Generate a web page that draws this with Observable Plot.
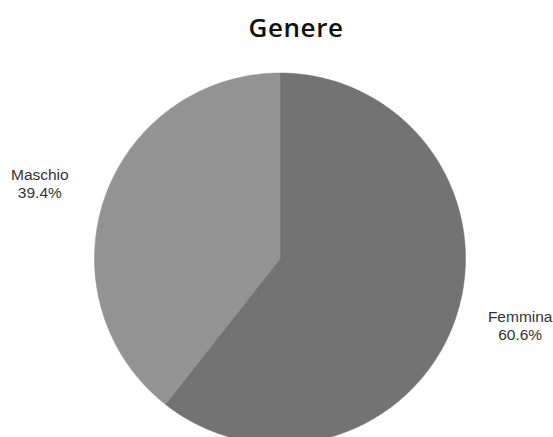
<!DOCTYPE html>
<html>
<head>
<meta charset="utf-8">
<script src="https://cdn.jsdelivr.net/npm/d3@7"></script>
<script src="https://cdn.jsdelivr.net/npm/@observablehq/plot@0.6"></script>
<style>
  html, body { margin: 0; padding: 0; background: #fff; width: 553px; height: 437px; overflow: hidden; }
  #wrap { position: relative; width: 553px; height: 437px; }
  #title { position: absolute; left: 0; top: 0; width: 592px; height: 55px; text-align: center;
           font-family: "Open Sans", sans-serif; font-weight: 600; font-size: 26px; letter-spacing: 0.6px;
           line-height: 55px; color: #111; }
  #chart { position: absolute; left: 0; top: 55px; }
</style>
</head>
<body>
<div id="wrap">
  <div id="title">Genere</div>
  <div id="chart"></div>
</div>
<script>
const categories = ["Femmina", "Maschio"];
const values = [60.6, 39.4];
const percentLabels = ["60.6%", "39.4%"];
const colors = ["#737373", "#939393"];

const data = categories.map((c, i) => ({label: c, value: values[i], pct: percentLabels[i]}));
const arcs = d3.pie().sort(null).value(d => d.value)(data);

// polygon points for each slice in unit-circle coordinates (y up)
const slicePts = [];
arcs.forEach(a => {
  const n = Math.max(2, Math.ceil((a.endAngle - a.startAngle) / (Math.PI / 360)));
  slicePts.push({label: a.data.label, x: 0, y: 0});
  for (let k = 0; k <= n; k++) {
    const t = a.startAngle + (a.endAngle - a.startAngle) * k / n;
    slicePts.push({label: a.data.label, x: Math.sin(t), y: Math.cos(t)});
  }
  slicePts.push({label: a.data.label, x: 0, y: 0});
});

const labelPts = arcs.map(a => {
  const m = (a.startAngle + a.endAngle) / 2;
  return {label: a.data.label, text: a.data.label + "\n" + a.data.pct, x: 1.37 * Math.sin(m), y: 1.17 * Math.cos(m)};
});

const chart = Plot.plot({
  width: 553,
  height: 382,
  x: {domain: [-1, 1], range: [94, 465], axis: null},
  y: {domain: [-1, 1], range: [388.5, 17.5], axis: null},
  color: {domain: categories, range: colors},
  style: {background: "white", overflow: "hidden"},
  marks: [
    Plot.line(slicePts, {x: "x", y: "y", z: "label", fill: "label", stroke: "label", strokeWidth: 0.5, curve: "linear"}),
    Plot.text(labelPts, {x: "x", y: "y", dy: -4, text: "text", textAnchor: "middle", lineHeight: 1.17,
      fontFamily: "Liberation Sans, Arial, sans-serif", fontSize: 15.5, fill: "#333"})
  ]
});
document.getElementById("chart").appendChild(chart);
</script>
</body>
</html>
